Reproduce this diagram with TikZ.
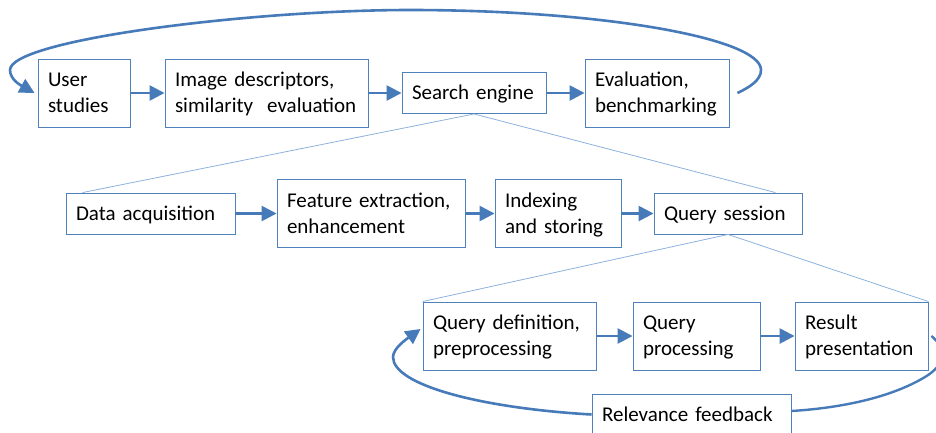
\documentclass[tikz,border=0pt]{standalone}
\usepackage{fontspec}
\setmainfont{Carlito}
\usetikzlibrary{arrows.meta}
\definecolor{boxblue}{RGB}{79,129,189}
\definecolor{flowblue}{RGB}{70,122,185}
\definecolor{zoomblue}{RGB}{141,178,222}

\begin{document}
\begin{tikzpicture}[x=1pt,y=-1pt,
  box/.style={draw=boxblue, line width=0.9pt, fill=white, inner xsep=10pt,
    inner ysep=2pt, align=left, font=\fontsize{21}{26}\selectfont,
    text height=13.5pt},
  oneline/.style={box, text depth=0pt, minimum height=41pt},
  twoline/.style={box, text depth=26pt, minimum height=68pt},
  flow/.style={draw=flowblue, line width=2.6pt,
    -{Triangle[length=15pt,width=15pt]}},
  loopline/.style={draw=flowblue, line width=2.4pt},
  zoomline/.style={draw=zoomblue, line width=0.8pt}]
\useasboundingbox (0,0) rectangle (936,432);
\clip (0,0) rectangle (936,432);

% top level: evaluation cycle
\node[twoline, text width=72pt]  (user)   at (84,93)    {User\\studies};
\node[twoline, text width=183pt] (img)    at (266.5,93) {Image descriptors,\\similarity\ \ evaluation};
\node[oneline, text width=124pt] (search) at (474,93)   {Search engine};
\node[twoline, text width=124pt] (eval)   at (657,93)   {Evaluation,\\benchmarking};

% search engine pipeline
\node[oneline, text width=149pt] (data)   at (150.5,213.5) {Data acquisition};
\node[twoline, text width=168pt] (feat)   at (371,213.5)   {Feature extraction,\\enhancement};
\node[twoline, text width=106pt] (index)  at (558,213.5)   {Indexing\\and storing};
\node[oneline, text width=128pt] (qsess)  at (728,213.5)   {Query session};

% query session pipeline
\node[twoline, text width=153pt] (qdef)   at (509.5,336) {Query definition,\\preprocessing};
\node[twoline, text width=107pt] (qproc)  at (696.5,336) {Query\\processing};
\node[twoline, text width=113pt] (result) at (861.5,336) {Result\\presentation};
\node[oneline, text width=179pt] (relev)  at (691.5,414.5) {Relevance feedback};

% zoom-in lines
\draw[zoomline] ([xshift=17pt]data.north west) -- (search.south) -- ([xshift=-27pt]qsess.north east);
\draw[zoomline] (qdef.north west) -- (qsess.south) -- (result.north east);

% straight flow arrows
\draw[flow] (user.east) -- (img.west);
\draw[flow] (img.east) -- (search.west);
\draw[flow] (search.east) -- (eval.west);
\draw[flow] (data.east) -- (feat.west);
\draw[flow] (feat.east) -- (index.west);
\draw[flow] (index.east) -- (qsess.west);
\draw[flow] (qdef.east) -- (qproc.west);
\draw[flow] (qproc.east) -- (result.west);

% evaluation loop back to user studies
\coordinate (evalout) at ([xshift=8pt]eval.east);
\coordinate (userin) at ([xshift=-3pt]user.west);
\draw[flow] (evalout) .. controls (750,87) and (761,80) .. (761,70)
  .. controls (761,38) and (600,10) .. (410,10)
  .. controls (250,10) and (10,40) .. (10,70)
  .. controls (10,80) and (22,86) .. (userin);

% relevance feedback loop
\coordinate (resout) at ([xshift=3pt]result.east);
\coordinate (relin) at ([yshift=3.5pt]relev.east);
\coordinate (qdefin) at ([xshift=-2pt,yshift=7pt]qdef.west);
\draw[loopline] (resout) .. controls (948,350) and (945,365) .. (925,377)
  .. controls (890,398) and (840,408) .. (relin);
\draw[flow] (relev.west) .. controls (480,408) and (393,385) .. (393,357)
  .. controls (393,348) and (408,338) .. (qdefin);
\end{tikzpicture}
\end{document}
